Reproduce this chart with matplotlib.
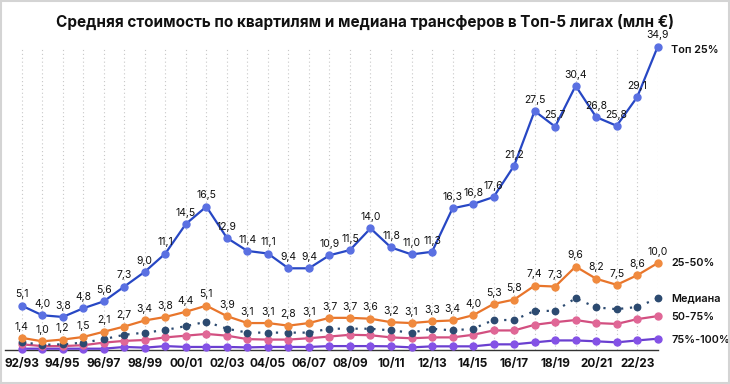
import matplotlib
matplotlib.use("Agg")
import matplotlib.pyplot as plt
from matplotlib.patches import Rectangle

plt.rcParams['font.family'] = ['Inter', 'DejaVu Sans']

seasons = ["92/93", "93/94", "94/95", "95/96", "96/97", "97/98", "98/99", "99/00",
           "00/01", "01/02", "02/03", "03/04", "04/05", "05/06", "06/07", "07/08",
           "08/09", "09/10", "10/11", "11/12", "12/13", "13/14", "14/15", "15/16",
           "16/17", "17/18", "18/19", "19/20", "20/21", "21/22", "22/23", "23/24"]

top25 = [5.1, 4.0, 3.8, 4.8, 5.6, 7.3, 9.0, 11.1, 14.5, 16.5, 12.9, 11.4, 11.1, 9.4, 9.4, 10.9,
         11.5, 14.0, 11.8, 11.0, 11.3, 16.3, 16.8, 17.6, 21.2, 27.5, 25.7, 30.4, 26.8, 25.8, 29.1, 34.9]
q25_50 = [1.4, 1.0, 1.2, 1.5, 2.1, 2.7, 3.4, 3.8, 4.4, 5.1, 3.9, 3.1, 3.1, 2.8, 3.1, 3.7,
          3.7, 3.6, 3.2, 3.1, 3.3, 3.4, 4.0, 5.3, 5.8, 7.4, 7.3, 9.6, 8.2, 7.5, 8.6, 10.0]
median = [0.9, 0.6, 0.65, 0.85, 1.25, 1.75, 2.0, 2.3, 2.75, 3.25, 2.45, 2.0, 2.0, 2.0, 2.0, 2.45,
          2.45, 2.45, 2.25, 2.0, 2.45, 2.25, 2.45, 3.45, 3.45, 4.5, 4.5, 5.95, 4.9, 4.7, 4.95, 5.95]
q50_75 = [0.65, 0.45, 0.45, 0.55, 0.85, 1.05, 1.15, 1.45, 1.65, 1.85, 1.65, 1.25, 1.2, 1.2, 1.35, 1.55,
          1.75, 1.7, 1.45, 1.35, 1.45, 1.45, 1.75, 2.25, 2.25, 2.9, 3.2, 3.45, 3.1, 3.0, 3.55, 3.9]
q75_100 = [0.15, 0.15, 0.15, 0.15, 0.15, 0.35, 0.27, 0.45, 0.35, 0.35, 0.35, 0.3, 0.35, 0.35, 0.35, 0.45,
           0.45, 0.45, 0.42, 0.3, 0.42, 0.42, 0.42, 0.65, 0.65, 0.88, 1.1, 1.1, 1.0, 0.88, 1.1, 1.3]

series_names = ["Топ 25%", "25-50%", "Медиана", "50-75%", "75%-100%"]

x = list(range(len(seasons)))

fig = plt.figure(figsize=(7.3, 3.84), dpi=100)
fig.patches.append(Rectangle((0.002, 0.003), 0.996, 0.994, transform=fig.transFigure,
                             fill=False, edgecolor='#d4d4d4', linewidth=1.5))
ax = fig.add_axes([5.3 / 730, 34 / 384, (657.7 - 5.3) / 730, (350 - 49.3) / 384])
ax.set_xlim(-0.8, 31)
ax.set_ylim(0, 34.6)

# vertical dotted grid
ax.vlines(x, 0, 34.6, colors='#c8c8c8', linestyles=(0, (1, 2.5)), linewidth=0.8, zorder=0)

def draw(vals, lc, mc, ls='-', lw=1.6, ms=5, z=3):
    ax.plot(x, vals, color=lc, linestyle=ls, linewidth=lw, marker='o', markersize=ms,
            markerfacecolor=mc, markeredgecolor=mc, clip_on=False, zorder=z)

draw(q75_100, '#6a3fd0', '#8452e6', z=3)
draw(q50_75, '#d24f80', '#e06796', z=4)
draw(median, '#2c4a70', '#2c4a70', ls=(0, (1, 3)), lw=1.6, ms=4.6, z=5)
draw(q25_50, '#e8752b', '#f08a3e', z=6)
draw(top25, '#2747c4', '#5a70e2', z=7)

def fmt(v):
    return f"{v:.1f}".replace('.', ',')

for xi, v in zip(x, top25):
    ax.annotate(fmt(v), (xi, v), xytext=(0, 4.5), textcoords='offset points',
                ha='center', va='bottom', fontsize=7.5, color='#111111', zorder=10,
                annotation_clip=False)
for xi, v in zip(x, q25_50):
    ax.annotate(fmt(v), (xi, v), xytext=(0, 4.5), textcoords='offset points',
                ha='center', va='bottom', fontsize=7.5, color='#111111', zorder=10,
                annotation_clip=False)

# right side labels
label_y = [34.5, 10.0, 6.0, 3.8, 1.1]
for name, ly in zip(series_names, label_y):
    ax.text(31.65, ly, name, ha='left', va='center', fontsize=7.8, fontweight='semibold',
            color='#111111', clip_on=False)

ax.set_xticks(x[::2])
ax.set_xticklabels(seasons[::2], fontsize=8.5, fontweight='bold', color='#111111')
ax.tick_params(axis='x', length=0, pad=6)
ax.set_yticks([])
for s in ['top', 'right', 'left']:
    ax.spines[s].set_visible(False)
ax.spines['bottom'].set_color('#333333')
ax.spines['bottom'].set_linewidth(1.0)

fig.text(0.5, 1 - 22 / 384, "Средняя стоимость по квартилям и медиана трансферов в Топ-5 лигах (млн €)",
         ha='center', va='center', fontsize=11, fontweight='bold', color='#111111')

fig.savefig("out.png", dpi=100)
